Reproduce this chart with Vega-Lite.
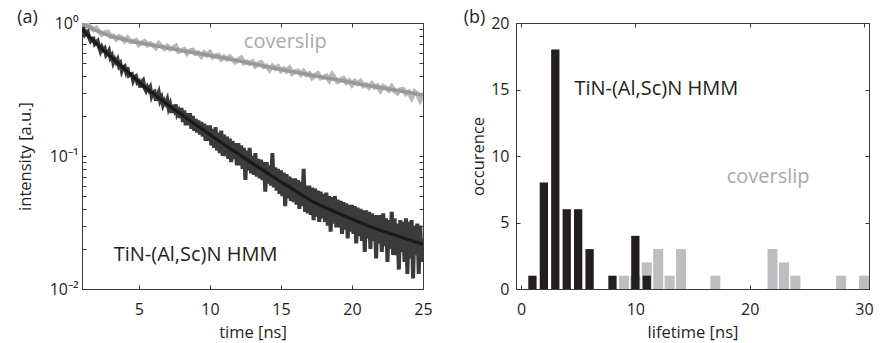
{
  "$schema": "https://vega.github.io/schema/vega-lite/v6.json",
  "background": "white",
  "padding": {"left": 16, "top": 8, "right": 5, "bottom": 0},
  "spacing": 30,
  "datasets": {
    "grayData": [
      {"t":1.0,"v":1.0},{"t":1.2,"v":0.947},{"t":1.4,"v":0.97},{"t":1.6,"v":0.929},{"t":1.8,"v":0.89},
      {"t":2.0,"v":0.915},{"t":2.2,"v":0.863},{"t":2.4,"v":0.821},{"t":2.6,"v":0.847},{"t":2.8,"v":0.856},
      {"t":3.0,"v":0.792},{"t":3.2,"v":0.798},{"t":3.4,"v":0.757},{"t":3.6,"v":0.793},{"t":3.8,"v":0.775},
      {"t":4.0,"v":0.735},{"t":4.2,"v":0.772},{"t":4.4,"v":0.727},{"t":4.6,"v":0.726},{"t":4.8,"v":0.74},
      {"t":5.0,"v":0.689},{"t":5.2,"v":0.711},{"t":5.4,"v":0.726},{"t":5.6,"v":0.685},{"t":5.8,"v":0.7},
      {"t":6.0,"v":0.68},{"t":6.2,"v":0.654},{"t":6.4,"v":0.701},{"t":6.6,"v":0.669},{"t":6.8,"v":0.643},
      {"t":7.0,"v":0.67},{"t":7.2,"v":0.638},{"t":7.4,"v":0.651},{"t":7.6,"v":0.67},{"t":7.8,"v":0.613},
      {"t":8.0,"v":0.62},{"t":8.2,"v":0.633},{"t":8.4,"v":0.592},{"t":8.6,"v":0.617},{"t":8.8,"v":0.624},
      {"t":9.0,"v":0.589},{"t":9.2,"v":0.596},{"t":9.4,"v":0.562},{"t":9.6,"v":0.597},{"t":9.8,"v":0.575},
      {"t":10.0,"v":0.599},{"t":10.2,"v":0.554},{"t":10.4,"v":0.566},{"t":10.6,"v":0.572},{"t":10.8,"v":0.534},
      {"t":11.0,"v":0.556},{"t":11.2,"v":0.535},{"t":11.4,"v":0.556},{"t":11.6,"v":0.53},{"t":11.8,"v":0.509},
      {"t":12.0,"v":0.53},{"t":12.2,"v":0.546},{"t":12.4,"v":0.5},{"t":12.6,"v":0.51},{"t":12.8,"v":0.495},
      {"t":13.0,"v":0.51},{"t":13.2,"v":0.475},{"t":13.4,"v":0.495},{"t":13.6,"v":0.504},{"t":13.8,"v":0.47},
      {"t":14.0,"v":0.475},{"t":14.2,"v":0.446},{"t":14.4,"v":0.475},{"t":14.6,"v":0.456},{"t":14.8,"v":0.47},
      {"t":15.0,"v":0.438},{"t":15.2,"v":0.452},{"t":15.4,"v":0.435},{"t":15.6,"v":0.457},{"t":15.8,"v":0.418},
      {"t":16.0,"v":0.431},{"t":16.2,"v":0.436},{"t":16.4,"v":0.411},{"t":16.6,"v":0.432},{"t":16.8,"v":0.408},
      {"t":17.0,"v":0.416},{"t":17.2,"v":0.388},{"t":17.4,"v":0.405},{"t":17.6,"v":0.417},{"t":17.8,"v":0.386},
      {"t":18.0,"v":0.39},{"t":18.2,"v":0.399},{"t":18.4,"v":0.372},{"t":18.6,"v":0.41},{"t":18.8,"v":0.384},
      {"t":19.0,"v":0.362},{"t":19.2,"v":0.374},{"t":19.4,"v":0.382},{"t":19.6,"v":0.356},{"t":19.8,"v":0.367},
      {"t":20.0,"v":0.343},{"t":20.2,"v":0.365},{"t":20.4,"v":0.35},{"t":20.6,"v":0.364},{"t":20.8,"v":0.337},
      {"t":21.0,"v":0.344},{"t":21.2,"v":0.328},{"t":21.4,"v":0.348},{"t":21.6,"v":0.329},{"t":21.8,"v":0.337},
      {"t":22.0,"v":0.311},{"t":22.2,"v":0.334},{"t":22.4,"v":0.324},{"t":22.6,"v":0.312},{"t":22.8,"v":0.332},
      {"t":23.0,"v":0.31},{"t":23.2,"v":0.298},{"t":23.4,"v":0.314},{"t":23.6,"v":0.317},{"t":23.8,"v":0.294},
      {"t":24.0,"v":0.303},{"t":24.2,"v":0.274},{"t":24.4,"v":0.304},{"t":24.6,"v":0.293},{"t":24.8,"v":0.264},
      {"t":25.0,"v":0.294}
    ],
    "grayFit": [
      {"t":1,"v":0.99},{"t":1.5,"v":0.93},{"t":2,"v":0.88},{"t":3,"v":0.8},{"t":4,"v":0.75},{"t":5,"v":0.71},
      {"t":6,"v":0.68},{"t":7,"v":0.65},{"t":8,"v":0.62},{"t":9,"v":0.595},{"t":10,"v":0.57},{"t":11,"v":0.545},
      {"t":12,"v":0.52},{"t":13,"v":0.495},{"t":14,"v":0.47},{"t":15,"v":0.447},{"t":16,"v":0.427},{"t":17,"v":0.408},
      {"t":18,"v":0.39},{"t":19,"v":0.373},{"t":20,"v":0.357},{"t":21,"v":0.341},{"t":22,"v":0.327},{"t":23,"v":0.313},
      {"t":24,"v":0.3},{"t":25,"v":0.288}
    ],
    "blackData": [
      {"t":1.0,"v":0.9},{"t":1.1,"v":0.904},{"t":1.2,"v":0.822},{"t":1.3,"v":0.852},{"t":1.4,"v":0.863},
      {"t":1.5,"v":0.778},{"t":1.6,"v":0.735},{"t":1.7,"v":0.763},{"t":1.8,"v":0.765},{"t":1.9,"v":0.696},
      {"t":2.0,"v":0.714},{"t":2.1,"v":0.732},{"t":2.2,"v":0.662},{"t":2.3,"v":0.615},{"t":2.4,"v":0.658},
      {"t":2.5,"v":0.626},{"t":2.6,"v":0.643},{"t":2.7,"v":0.574},{"t":2.8,"v":0.591},{"t":2.9,"v":0.618},
      {"t":3.0,"v":0.549},{"t":3.1,"v":0.57},{"t":3.2,"v":0.504},{"t":3.3,"v":0.534},{"t":3.4,"v":0.508},
      {"t":3.5,"v":0.532},{"t":3.6,"v":0.476},{"t":3.7,"v":0.495},{"t":3.8,"v":0.437},{"t":3.9,"v":0.465},
      {"t":4.0,"v":0.473},{"t":4.1,"v":0.431},{"t":4.2,"v":0.464},{"t":4.3,"v":0.404},{"t":4.4,"v":0.412},
      {"t":4.5,"v":0.414},{"t":4.6,"v":0.37},{"t":4.7,"v":0.393},{"t":4.8,"v":0.399},{"t":4.9,"v":0.357},
      {"t":5.0,"v":0.364},{"t":5.1,"v":0.328},{"t":5.2,"v":0.36},{"t":5.3,"v":0.37},{"t":5.4,"v":0.325},
      {"t":5.5,"v":0.31},{"t":5.6,"v":0.329},{"t":5.7,"v":0.313},{"t":5.8,"v":0.328},{"t":5.9,"v":0.283},
      {"t":6.0,"v":0.301},{"t":6.1,"v":0.305},{"t":6.2,"v":0.261},{"t":6.3,"v":0.282},{"t":6.4,"v":0.301},
      {"t":6.5,"v":0.261},{"t":6.6,"v":0.275},{"t":6.7,"v":0.243},{"t":6.8,"v":0.259},{"t":6.9,"v":0.248},
      {"t":7.0,"v":0.265},{"t":7.1,"v":0.229},{"t":7.2,"v":0.244},{"t":7.3,"v":0.211},{"t":7.4,"v":0.242},
      {"t":7.5,"v":0.224},{"t":7.6,"v":0.244},{"t":7.7,"v":0.207},{"t":7.8,"v":0.217},{"t":7.9,"v":0.194},
      {"t":8.0,"v":0.23},{"t":8.1,"v":0.18},{"t":8.2,"v":0.22},{"t":8.3,"v":0.17},{"t":8.4,"v":0.21},
      {"t":8.5,"v":0.17},{"t":8.6,"v":0.21},{"t":8.7,"v":0.16},{"t":8.8,"v":0.2},{"t":8.9,"v":0.155},
      {"t":9.0,"v":0.19},{"t":9.1,"v":0.15},{"t":9.2,"v":0.185},{"t":9.3,"v":0.145},{"t":9.4,"v":0.18},
      {"t":9.5,"v":0.14},{"t":9.6,"v":0.175},{"t":9.7,"v":0.13},{"t":9.8,"v":0.17},{"t":9.9,"v":0.13},
      {"t":10.0,"v":0.17},{"t":10.1,"v":0.12},{"t":10.2,"v":0.16},{"t":10.3,"v":0.115},{"t":10.4,"v":0.165},
      {"t":10.5,"v":0.11},{"t":10.6,"v":0.15},{"t":10.7,"v":0.105},{"t":10.8,"v":0.155},{"t":10.9,"v":0.1},
      {"t":11.0,"v":0.145},{"t":11.1,"v":0.1},{"t":11.2,"v":0.14},{"t":11.3,"v":0.095},{"t":11.4,"v":0.135},
      {"t":11.5,"v":0.09},{"t":11.6,"v":0.13},{"t":11.7,"v":0.095},{"t":11.8,"v":0.125},{"t":11.9,"v":0.085},
      {"t":12.0,"v":0.125},{"t":12.1,"v":0.085},{"t":12.2,"v":0.12},{"t":12.3,"v":0.08},{"t":12.4,"v":0.115},
      {"t":12.5,"v":0.066},{"t":12.6,"v":0.11},{"t":12.7,"v":0.078},{"t":12.8,"v":0.115},{"t":12.9,"v":0.074},
      {"t":13.0,"v":0.1},{"t":13.1,"v":0.072},{"t":13.2,"v":0.105},{"t":13.3,"v":0.07},{"t":13.4,"v":0.095},
      {"t":13.5,"v":0.068},{"t":13.6,"v":0.094},{"t":13.7,"v":0.066},{"t":13.8,"v":0.09},{"t":13.9,"v":0.054},
      {"t":14.0,"v":0.09},{"t":14.1,"v":0.062},{"t":14.2,"v":0.085},{"t":14.3,"v":0.06},{"t":14.4,"v":0.105},
      {"t":14.5,"v":0.058},{"t":14.6,"v":0.082},{"t":14.7,"v":0.055},{"t":14.8,"v":0.08},{"t":14.9,"v":0.052},
      {"t":15.0,"v":0.078},{"t":15.1,"v":0.05},{"t":15.2,"v":0.075},{"t":15.3,"v":0.042},{"t":15.4,"v":0.073},
      {"t":15.5,"v":0.048},{"t":15.6,"v":0.07},{"t":15.7,"v":0.046},{"t":15.8,"v":0.068},{"t":15.9,"v":0.045},
      {"t":16.0,"v":0.068},{"t":16.1,"v":0.043},{"t":16.2,"v":0.066},{"t":16.3,"v":0.04},{"t":16.4,"v":0.064},
      {"t":16.5,"v":0.042},{"t":16.6,"v":0.08},{"t":16.7,"v":0.038},{"t":16.8,"v":0.06},{"t":16.9,"v":0.037},
      {"t":17.0,"v":0.06},{"t":17.1,"v":0.036},{"t":17.2,"v":0.058},{"t":17.3,"v":0.033},{"t":17.4,"v":0.057},
      {"t":17.5,"v":0.035},{"t":17.6,"v":0.055},{"t":17.7,"v":0.032},{"t":17.8,"v":0.054},{"t":17.9,"v":0.034},
      {"t":18.0,"v":0.052},{"t":18.1,"v":0.032},{"t":18.2,"v":0.053},{"t":18.3,"v":0.03},{"t":18.4,"v":0.05},
      {"t":18.5,"v":0.027},{"t":18.6,"v":0.049},{"t":18.7,"v":0.031},{"t":18.8,"v":0.05},{"t":18.9,"v":0.029},
      {"t":19.0,"v":0.047},{"t":19.1,"v":0.029},{"t":19.2,"v":0.046},{"t":19.3,"v":0.026},{"t":19.4,"v":0.045},
      {"t":19.5,"v":0.028},{"t":19.6,"v":0.044},{"t":19.7,"v":0.024},{"t":19.8,"v":0.043},{"t":19.9,"v":0.027},
      {"t":20.0,"v":0.043},{"t":20.1,"v":0.026},{"t":20.2,"v":0.042},{"t":20.3,"v":0.022},{"t":20.4,"v":0.041},
      {"t":20.5,"v":0.025},{"t":20.6,"v":0.04},{"t":20.7,"v":0.023},{"t":20.8,"v":0.039},{"t":20.9,"v":0.019},
      {"t":21.0,"v":0.039},{"t":21.1,"v":0.024},{"t":21.2,"v":0.038},{"t":21.3,"v":0.02},{"t":21.4,"v":0.037},
      {"t":21.5,"v":0.023},{"t":21.6,"v":0.036},{"t":21.7,"v":0.017},{"t":21.8,"v":0.036},{"t":21.9,"v":0.022},
      {"t":22.0,"v":0.036},{"t":22.1,"v":0.019},{"t":22.2,"v":0.037},{"t":22.3,"v":0.021},{"t":22.4,"v":0.034},
      {"t":22.5,"v":0.016},{"t":22.6,"v":0.033},{"t":22.7,"v":0.02},{"t":22.8,"v":0.038},{"t":22.9,"v":0.018},
      {"t":23.0,"v":0.034},{"t":23.1,"v":0.018},{"t":23.2,"v":0.031},{"t":23.3,"v":0.014},{"t":23.4,"v":0.033},
      {"t":23.5,"v":0.019},{"t":23.6,"v":0.032},{"t":23.7,"v":0.016},{"t":23.8,"v":0.034},{"t":23.9,"v":0.013},
      {"t":24.0,"v":0.032},{"t":24.1,"v":0.017},{"t":24.2,"v":0.033},{"t":24.3,"v":0.012},{"t":24.4,"v":0.03},
      {"t":24.5,"v":0.018},{"t":24.6,"v":0.031},{"t":24.7,"v":0.013},{"t":24.8,"v":0.03},{"t":24.9,"v":0.016},
      {"t":25.0,"v":0.024}
    ],
    "blackFit": [
      {"t":1,"v":0.9},{"t":1.5,"v":0.79},{"t":2,"v":0.7},{"t":3,"v":0.56},{"t":4,"v":0.45},{"t":5,"v":0.36},
      {"t":6,"v":0.295},{"t":7,"v":0.245},{"t":8,"v":0.205},{"t":9,"v":0.172},{"t":10,"v":0.145},{"t":11,"v":0.122},
      {"t":12,"v":0.104},{"t":13,"v":0.088},{"t":14,"v":0.075},{"t":15,"v":0.064},{"t":16,"v":0.055},{"t":17,"v":0.047},
      {"t":18,"v":0.0415},{"t":19,"v":0.0372},{"t":20,"v":0.0335},{"t":21,"v":0.0303},{"t":22,"v":0.0277},{"t":23,"v":0.0255},
      {"t":24,"v":0.0235},{"t":25,"v":0.0217}
    ],
    "annotA": [
      {"t":3.23,"v":0.0161,"label":"TiN-(Al,Sc)N HMM","series":"hmm"},
      {"t":12.39,"v":0.645,"label":"coverslip","series":"cover"}
    ],
    "histHMM": [
      {"lifetime":1,"count":1},{"lifetime":2,"count":8},{"lifetime":3,"count":18},{"lifetime":4,"count":6},
      {"lifetime":5,"count":6},{"lifetime":6,"count":3},{"lifetime":8,"count":1},{"lifetime":10,"count":4},
      {"lifetime":11,"count":1}
    ],
    "histCover": [
      {"lifetime":9,"count":1},{"lifetime":10,"count":1},{"lifetime":11,"count":2},{"lifetime":12,"count":3},
      {"lifetime":13,"count":1},{"lifetime":14,"count":3},{"lifetime":17,"count":1},{"lifetime":22,"count":3},
      {"lifetime":23,"count":2},{"lifetime":24,"count":1},{"lifetime":28,"count":1},{"lifetime":30,"count":1}
    ],
    "annotB": [
      {"lifetime":4.67,"count":14.6,"label":"TiN-(Al,Sc)N HMM","series":"hmm"},
      {"lifetime":17.99,"count":7.97,"label":"coverslip","series":"cover"}
    ]
  },
  "hconcat": [
    {
      "title": {"text": "(a)"},
      "width": 341,
      "height": 266,
      "layer": [
        {
          "data": {"name": "grayData"},
          "mark": {"type": "line", "color": "#b9b9b9", "strokeWidth": 5, "clip": true},
          "encoding": {
            "x": {"field": "t", "type": "quantitative", "scale": {"domain": [1, 25], "nice": false, "zero": false},
                  "axis": {"orient": "bottom", "title": "time [ns]", "values": [5, 10, 15, 20, 25], "labelFlush": false, "labelPadding": 16}},
            "y": {"field": "v", "type": "quantitative", "scale": {"type": "log", "domain": [0.01, 1], "nice": false},
                  "axis": {"orient": "left", "title": "intensity [a.u.]", "labelOverlap": false, "labelPadding": 8, "titlePadding": 16,
                           "values": [0.01,0.02,0.03,0.04,0.05,0.06,0.07,0.08,0.09,0.1,0.2,0.3,0.4,0.5,0.6,0.7,0.8,0.9,1],
                           "labelExpr": "datum.value == 1 ? '10⁰' : datum.value == 0.1 ? '10⁻¹' : datum.value == 0.01 ? '10⁻²' : ''"}}
          }
        },
        {
          "data": {"name": "grayFit"},
          "mark": {"type": "line", "color": "#989898", "strokeWidth": 3.5, "interpolate": "monotone", "clip": true},
          "encoding": {
            "x": {"field": "t", "type": "quantitative",
                  "axis": {"orient": "top", "labels": false, "title": null, "domain": false, "values": [5, 10, 15, 20, 25]}},
            "y": {"field": "v", "type": "quantitative",
                  "axis": {"orient": "right", "labels": false, "title": null, "domain": false, "labelOverlap": false,
                           "values": [0.01,0.02,0.03,0.04,0.05,0.06,0.07,0.08,0.09,0.1,0.2,0.3,0.4,0.5,0.6,0.7,0.8,0.9,1]}}
          }
        },
        {
          "data": {"name": "blackData"},
          "mark": {"type": "line", "color": "#3b3b3b", "strokeWidth": 4, "clip": true},
          "encoding": {
            "x": {"field": "t", "type": "quantitative", "axis": null},
            "y": {"field": "v", "type": "quantitative", "axis": null}
          }
        },
        {
          "data": {"name": "blackFit"},
          "mark": {"type": "line", "color": "#1b1919", "strokeWidth": 3.2, "interpolate": "monotone", "clip": true},
          "encoding": {
            "x": {"field": "t", "type": "quantitative", "axis": null},
            "y": {"field": "v", "type": "quantitative", "axis": null}
          }
        },
        {
          "data": {"name": "annotA"},
          "transform": [{"filter": "datum.series == 'hmm'"}],
          "mark": {"type": "text", "align": "left", "baseline": "alphabetic", "fontSize": 20, "color": "#231f20", "font": "Open Sans"},
          "encoding": {
            "x": {"field": "t", "type": "quantitative", "axis": null},
            "y": {"field": "v", "type": "quantitative", "axis": null},
            "text": {"field": "label"}
          }
        },
        {
          "data": {"name": "annotA"},
          "transform": [{"filter": "datum.series == 'cover'"}],
          "mark": {"type": "text", "align": "left", "baseline": "alphabetic", "fontSize": 20, "color": "#a7a9ac", "font": "Open Sans"},
          "encoding": {
            "x": {"field": "t", "type": "quantitative", "axis": null},
            "y": {"field": "v", "type": "quantitative", "axis": null},
            "text": {"field": "label"}
          }
        }
      ]
    },
    {
      "title": {"text": "(b)", "dx": -7},
      "width": 353,
      "height": 266,
      "layer": [
        {
          "data": {"name": "histCover"},
          "mark": {"type": "bar", "color": "#bcbec0", "width": 10, "clip": true},
          "encoding": {
            "x": {"field": "lifetime", "type": "quantitative", "scale": {"domain": [0, 30], "nice": false},
                  "axis": {"orient": "bottom", "title": "lifetime [ns]", "values": [0, 10, 20, 30], "labelFlush": false, "labelPadding": 16}},
            "y": {"field": "count", "type": "quantitative", "scale": {"domain": [0, 20], "nice": false},
                  "axis": {"orient": "left", "title": "occurence", "values": [0, 5, 10, 15, 20], "labelPadding": 11, "titlePadding": 4}}
          }
        },
        {
          "data": {"name": "histHMM"},
          "mark": {"type": "bar", "color": "#231f20", "width": 8.3, "clip": true},
          "encoding": {
            "x": {"field": "lifetime", "type": "quantitative",
                  "axis": {"orient": "top", "labels": false, "title": null, "domain": false, "values": [0, 10, 20, 30]}},
            "y": {"field": "count", "type": "quantitative",
                  "axis": {"orient": "right", "labels": false, "title": null, "domain": false, "values": [0, 5, 10, 15, 20]}}
          }
        },
        {
          "data": {"name": "annotB"},
          "transform": [{"filter": "datum.series == 'hmm'"}],
          "mark": {"type": "text", "align": "left", "baseline": "alphabetic", "fontSize": 20, "color": "#231f20", "font": "Open Sans"},
          "encoding": {
            "x": {"field": "lifetime", "type": "quantitative", "axis": null},
            "y": {"field": "count", "type": "quantitative", "axis": null},
            "text": {"field": "label"}
          }
        },
        {
          "data": {"name": "annotB"},
          "transform": [{"filter": "datum.series == 'cover'"}],
          "mark": {"type": "text", "align": "left", "baseline": "alphabetic", "fontSize": 20, "color": "#a7a9ac", "font": "Open Sans"},
          "encoding": {
            "x": {"field": "lifetime", "type": "quantitative", "axis": null},
            "y": {"field": "count", "type": "quantitative", "axis": null},
            "text": {"field": "label"}
          }
        }
      ]
    }
  ],
  "config": {
    "font": "Open Sans",
    "view": {"stroke": "#3a3a3a", "strokeWidth": 1},
    "axis": {
      "grid": false,
      "labelFont": "Open Sans", "labelFontSize": 16, "labelColor": "#231f20",
      "titleFont": "Open Sans", "titleFontSize": 16.5, "titleFontWeight": "normal", "titleColor": "#231f20",
      "domainColor": "#3a3a3a", "tickColor": "#3a3a3a", "tickSize": -4, "labelPadding": 12, "titlePadding": 7
    },
    "title": {"font": "Open Sans", "fontSize": 18, "fontWeight": "normal", "anchor": "start", "frame": "bounds", "color": "#231f20", "offset": -12}
  }
}
